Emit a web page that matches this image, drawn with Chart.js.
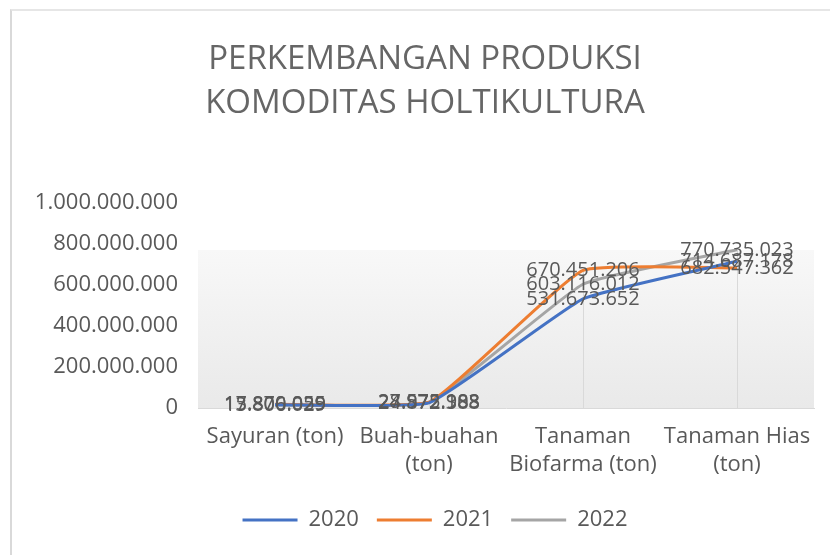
<!DOCTYPE html>
<html>
<head>
    <title>Perkembangan Produksi Komoditas Holtikultura</title>
    <script src="https://cdn.jsdelivr.net/npm/chart.js"></script>
    <style>
        body { margin: 0; background: #fff; }
        #wrap { position: relative; width: 830px; height: 555px; }
        #frame {
            position: absolute; left: 10px; top: 9px; width: 830px; height: 560px;
            border-left: 2px solid #d9d9d9; border-top: 2px solid #e6e6e6;
        }
        canvas { position: absolute; left: 0; top: 0; }
    </style>
</head>
<body>
    <div id="wrap">
        <div id="frame"></div>
        <canvas id="chart" width="830" height="555"></canvas>
    </div>

    <script>
        // categories and values (ton)
        const categories = [
            ['Sayuran (ton)'],
            ['Buah-buahan', '(ton)'],
            ['Tanaman', 'Biofarma (ton)'],
            ['Tanaman Hias', '(ton)']
        ];
        const years = ['2020', '2021', '2022'];
        const prod2020 = [15870025, 24872388, 531673652, 714687178];
        const prod2021 = [17800059, 27972908, 670451206, 682547362];
        const prod2022 = [13806029, 28575183, 603116012, 770735023];
        const yTicks = [0, 200000000, 400000000, 600000000, 800000000, 1000000000];

        const colors = ['#4472C4', '#ED7D31', '#A5A5A5'];
        const textColor = '#595959';

        // 1000000 -> 1.000.000
        function fmt(v) {
            return String(Math.round(v)).replace(/\B(?=(\d{3})+(?!\d))/g, '.');
        }

        // gradient background of the plot area
        const plotBg = {
            id: 'plotBg',
            beforeDatasetsDraw(chart) {
                const { ctx, chartArea: a } = chart;
                const top = a.top + (a.bottom - a.top) * 0.23;
                const g = ctx.createLinearGradient(0, top, 0, a.bottom);
                g.addColorStop(0, '#f8f8f8');
                g.addColorStop(1, '#e9e9e9');
                ctx.save();
                ctx.fillStyle = g;
                ctx.fillRect(a.left, top, a.right - a.left, a.bottom - top);
                ctx.restore();
            }
        };

        // drop lines from the highest point to the axis
        const dropLines = {
            id: 'dropLines',
            beforeDatasetsDraw(chart) {
                const { ctx, scales: { x, y } } = chart;
                ctx.save();
                ctx.strokeStyle = '#d9d9d9';
                ctx.lineWidth = 1;
                categories.forEach((c, i) => {
                    const maxVal = Math.max(prod2020[i], prod2021[i], prod2022[i]);
                    const px = Math.round(x.getPixelForValue(i)) + 0.5;
                    ctx.beginPath();
                    ctx.moveTo(px, y.getPixelForValue(maxVal));
                    ctx.lineTo(px, y.getPixelForValue(0));
                    ctx.stroke();
                });
                ctx.restore();
            }
        };

        // value labels centred on each point
        const valueLabels = {
            id: 'valueLabels',
            afterDatasetsDraw(chart) {
                const ctx = chart.ctx;
                ctx.save();
                ctx.font = '20px "Open Sans"';
                ctx.fillStyle = textColor;
                ctx.textAlign = 'center';
                ctx.textBaseline = 'middle';
                chart.data.datasets.forEach((ds, di) => {
                    chart.getDatasetMeta(di).data.forEach((pt, i) => {
                        ctx.fillText(fmt(ds.data[i]), pt.x, pt.y);
                    });
                });
                ctx.restore();
            }
        };

        // nudge legend and title a bit to the right
        const boxShift = {
            id: 'boxShift',
            afterLayout(chart) {
                chart.legend.left += 23;
                chart.legend.right += 23;
                chart.titleBlock.left += 13;
                chart.titleBlock.right += 13;
            }
        };

        const series = [prod2020, prod2021, prod2022];

        new Chart(document.getElementById('chart'), {
            type: 'line',
            data: {
                labels: categories,
                datasets: series.map((d, i) => ({
                    label: years[i],
                    data: d,
                    borderColor: colors[i],
                    backgroundColor: colors[i],
                    borderWidth: 3,
                    pointRadius: 0,
                    tension: 0.12,
                    fill: false
                }))
            },
            options: {
                responsive: false,
                animation: false,
                layout: { padding: { left: 10, right: 16, top: 0, bottom: 14 } },
                plugins: {
                    title: {
                        display: true,
                        text: ['PERKEMBANGAN PRODUKSI', 'KOMODITAS HOLTIKULTURA'],
                        color: '#666666',
                        font: { family: 'Open Sans', size: 33, weight: 'normal', lineHeight: 1.33 },
                        padding: { top: 38, bottom: 77 }
                    },
                    legend: {
                        position: 'bottom',
                        labels: {
                            color: textColor,
                            font: { family: 'Open Sans', size: 22 },
                            usePointStyle: true,
                            pointStyle: 'line',
                            pointStyleWidth: 55,
                            padding: 18
                        }
                    },
                    tooltip: { enabled: false }
                },
                scales: {
                    x: {
                        offset: true,
                        grid: { display: false, drawTicks: false },
                        border: { display: true, color: '#d9d9d9' },
                        ticks: {
                            color: textColor,
                            font: { family: 'Open Sans', size: 22, lineHeight: 1.3 },
                            maxRotation: 0,
                            autoSkip: false,
                            padding: 14
                        },
                        afterFit(scale) { scale.height = 83; }
                    },
                    y: {
                        min: 0,
                        max: 1000000000,
                        grid: { display: false, drawTicks: false },
                        border: { display: false },
                        afterBuildTicks(scale) {
                            scale.ticks = yTicks.map(v => ({ value: v }));
                        },
                        ticks: {
                            color: textColor,
                            font: { family: 'Open Sans', size: 22 },
                            padding: 20,
                            callback: v => fmt(v)
                        },
                        afterFit(scale) { scale.width = 188; }
                    }
                }
            },
            plugins: [plotBg, dropLines, valueLabels, boxShift]
        });
    </script>
</body>
</html>
